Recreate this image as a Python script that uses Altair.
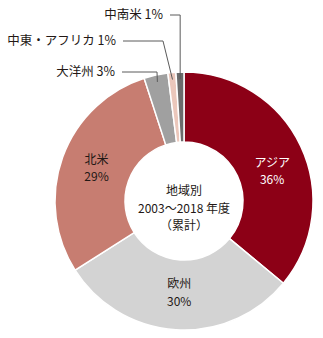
import math
import altair as alt
import pandas as pd

# ---- data ----
regions = ["アジア", "欧州", "北米", "大洋州", "中東・アフリカ", "中南米"]
shares = [36, 30, 29, 3, 1, 1]
colors = ["#8C0016", "#D3D3D3", "#C77D71", "#A0A0A0", "#EBC7BB", "#6B6B6B"]
inside = [True, True, True, False, False, False]
center_lines = ["地域別", "2003～2018 年度", "（累計）"]

# ---- layout ----
W, H = 323, 338
CX, CY = 184, 201
R_OUT, R_IN, R_LABEL, R_LEAD = 129, 59, 93, 122
FONT = "Noto Sans CJK JP"
FS = 12
TXT = "#231815"
center_y = [191, 208.5, 226]
# extra pixel nudges for inside labels (dx, dy)
inner_nudge = {"アジア": (4, 10), "欧州": (1, -1), "北米": (0, -1)}
# outside label layout per small region: (label y, text right x, elbow x or None = vertical)
outside_layout = {
    "大洋州": (72, 115, 157),
    "中東・アフリカ": (41, 116, 163),
    "中南米": (15, 163, None),
}

df = pd.DataFrame({"region": regions, "share": shares, "order": list(range(len(regions)))})
df["tcolor"] = ["#FFFFFF" if r == "アジア" else TXT for r in regions]

# inside label columns (one per region and line), blank elsewhere
label_specs = []
k = 0
for r, s, ins in zip(regions, shares, inside):
    if not ins:
        continue
    ndx, ndy = inner_nudge.get(r, (0, 0))
    for txt, off in ((r, -8.75), (f"{s}%", 8.75)):
        col = f"lab{k}"
        k += 1
        df[col] = [txt if rr == r else "" for rr in regions]
        label_specs.append((col, ndx, ndy + off))

total = sum(shares)
cum = 0
out_rows, seg_rows = [], []
for r, s in zip(regions, shares):
    mid = (cum + s / 2) / total * 2 * math.pi
    cum += s
    if r not in outside_layout:
        continue
    ly, tx, ex = outside_layout[r]
    px = CX + R_LEAD * math.sin(mid)
    py = CY - R_LEAD * math.cos(mid)
    if ex is None:
        ex = px
    out_rows.append({"text": f"{r} {s}%", "x": tx, "y": ly})
    seg_rows.append({"x": tx + 7, "y": ly, "x2": ex, "y2": ly})
    seg_rows.append({"x": ex, "y": ly, "x2": px, "y2": py})
out_df = pd.DataFrame(out_rows)
seg_df = pd.DataFrame(seg_rows)
center_df = pd.DataFrame({"t": center_lines, "y": center_y})

base = alt.Chart(df).encode(
    theta=alt.Theta("share:Q", stack=True),
    order=alt.Order("order:Q"),
    x=alt.value(CX),
    y=alt.value(CY),
)

arcs = base.mark_arc(outerRadius=R_OUT, innerRadius=R_IN, stroke="white", strokeWidth=1.5).encode(
    color=alt.Color("region:N", scale=alt.Scale(domain=regions, range=colors), legend=None)
)

inner_layers = [
    base.mark_text(radius=R_LABEL, font=FONT, fontSize=FS, dx=dx, dy=dy,
                   align="center", baseline="middle").encode(
        text=alt.Text(f"{col}:N"),
        color=alt.Color("tcolor:N", scale=None),
    )
    for col, dx, dy in label_specs
]

center = alt.Chart(center_df).mark_text(
    font=FONT, fontSize=FS, align="center", baseline="middle", color=TXT
).encode(text="t:N", x=alt.value(CX), y=alt.Y("y:Q", scale=None))

leaders = alt.Chart(seg_df).mark_rule(color="#5A5A5A", strokeWidth=1).encode(
    x=alt.X("x:Q", scale=None), y=alt.Y("y:Q", scale=None),
    x2="x2:Q", y2="y2:Q",
)

out_text = alt.Chart(out_df).mark_text(font=FONT, fontSize=12.5, align="right", baseline="middle", color=TXT).encode(
    x=alt.X("x:Q", scale=None), y=alt.Y("y:Q", scale=None), text="text:N"
)

chart = alt.layer(arcs, *inner_layers, center, leaders, out_text).properties(
    width=W, height=H, padding=0, autosize=alt.AutoSizeParams(type="none")
).configure_view(stroke=None)

chart.save("out.html", embed_options={"renderer": "svg", "actions": False})
